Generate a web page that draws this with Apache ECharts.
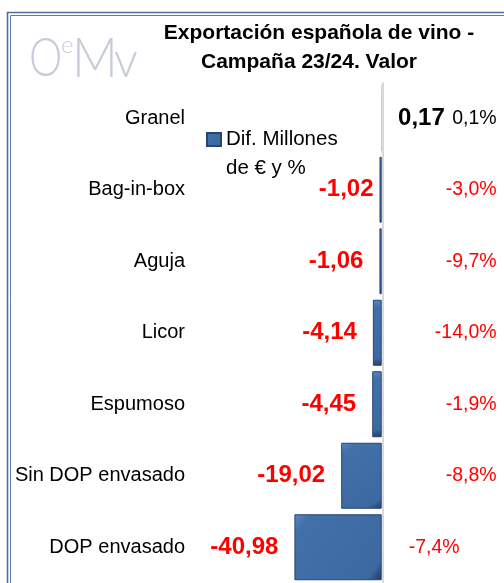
<!DOCTYPE html>
<html>
<head>
<meta charset="utf-8">
<script src="https://cdn.jsdelivr.net/npm/echarts@6/dist/echarts.min.js"></script>
<style>html,body{margin:0;padding:0;background:#fff;}#c{width:504px;height:583px;}</style>
</head>
<body>
<div id="c"></div>
<script>
const categories = ['Granel', 'Bag-in-box', 'Aguja', 'Licor', 'Espumoso', 'Sin DOP envasado', 'DOP envasado'];
const values = [0.17, -1.02, -1.06, -4.14, -4.45, -19.02, -40.98];
const pctLabels = ['0,1%', '-3,0%', '-9,7%', '-14,0%', '-1,9%', '-8,8%', '-7,4%'];
const titleLines = ['Exportación española de vino -', 'Campaña 23/24. Valor'];
const seriesName = 'Dif. Millones\nde € y %';

const FONT = 'Liberation Sans';
const chart = echarts.init(document.getElementById('c'), null, {renderer: 'canvas'});

const barColor = {
  type: 'linear', x: 0, y: 0, x2: 1, y2: 1,
  colorStops: [
    {offset: 0, color: '#5d89c2'},
    {offset: 0.12, color: '#4270a9'},
    {offset: 0.88, color: '#3d69a1'},
    {offset: 1, color: '#1f3a60'}
  ]
};

const fmt = v => v.toFixed(2).replace('.', ',');

const barData = values.map((v, i) => {
  const neg = v < 0;
  const item = {
    value: v,
    label: {
      show: true,
      position: neg ? 'left' : 'right',
      distance: i === 1 ? 6 : 16,
      color: neg ? '#ff0000' : '#000000',
      fontWeight: 'bold',
      fontSize: 24,
      fontFamily: FONT,
      formatter: p => fmt(p.value)
    }
  };
  if (Math.abs(v) < 0.5) item.itemStyle = {borderWidth: 0};
  return item;
});

const logoColor = '#c7ccd9';
const logoFont = {fontFamily: 'Lato', fontWeight: 300, fill: logoColor, verticalAlign: 'top'};
const titleStyle = {fontFamily: FONT, fontWeight: 'bold', fontSize: 21, color: '#000'};

const option = {
  animation: false,
  backgroundColor: '#ffffff',
  textStyle: {fontFamily: FONT},
  title: [
    {text: titleLines[0], left: 319, top: 23, textAlign: 'center', padding: 0, textStyle: titleStyle},
    {text: titleLines[1], left: 309, top: 52, textAlign: 'center', padding: 0, textStyle: titleStyle}
  ],
  legend: {
    data: [seriesName],
    left: 206,
    top: 96,
    padding: 0,
    itemWidth: 14,
    itemHeight: 13,
    itemGap: 5,
    icon: 'rect',
    formatter: name => '\n' + name,
    textStyle: {fontFamily: FONT, fontSize: 20.5, lineHeight: 29, color: '#000'}
  },
  graphic: [
    {type: 'rect', silent: true, shape: {x: 7.5, y: 12.5, width: 700, height: 800},
      style: {fill: null, stroke: '#4a6fa7', lineWidth: 1.6}},
    {type: 'rect', silent: true, shape: {x: 10.5, y: 15.5, width: 700, height: 800},
      style: {fill: null, stroke: '#5a7cb2', lineWidth: 1}},
    {type: 'text', silent: true, x: 29, y: 32, scaleX: 0.78,
      style: Object.assign({text: 'O', fontSize: 54}, logoFont)},
    {type: 'text', silent: true, x: 61, y: 33,
      style: Object.assign({text: 'e', fontSize: 24}, logoFont)},
    {type: 'text', silent: true, x: 72, y: 30.5, scaleX: 0.9,
      style: Object.assign({text: 'M', fontSize: 56}, logoFont)},
    {type: 'text', silent: true, x: 114, y: 36, scaleX: 0.95,
      style: Object.assign({text: 'v', fontSize: 50}, logoFont)}
  ],
  grid: {left: 190, top: 82.5, width: 255.6, height: 511, containLabel: false},
  xAxis: {
    type: 'value', min: -90, max: 30, show: false
  },
  yAxis: [
    {
      type: 'category', data: categories, inverse: true,
      axisLine: {show: false}, axisTick: {show: false}, splitLine: {show: false},
      axisLabel: {margin: 5, fontSize: 20, fontFamily: FONT, color: '#000'}
    },
    {
      type: 'category', data: pctLabels, inverse: true, position: 'right',
      axisLine: {show: false}, axisTick: {show: false}, splitLine: {show: false},
      axisLabel: {
        margin: 51, align: 'right', fontSize: 19, fontFamily: FONT, color: '#ff0000',
        formatter: (v, i) => i === 0 ? '{k|' + v + '}' : (i === 6 ? '{d|' + v + '}' : '{r|' + v + '}'),
        rich: {
          k: {color: '#000000', fontSize: 19.5, fontFamily: FONT},
          r: {color: '#ff0000', fontSize: 19.5, fontFamily: FONT},
          d: {color: '#ff0000', fontSize: 19.5, fontFamily: FONT, padding: [0, 37, 0, 0]}
        }
      }
    }
  ],
  series: [
    {
      name: seriesName,
      type: 'bar',
      barWidth: 66,
      data: barData,
      itemStyle: {color: barColor, borderColor: '#26456f', borderWidth: 1},
      markLine: {
        silent: true, symbol: 'none', animation: false,
        label: {show: false},
        lineStyle: {color: '#d9d9d9', width: 2, type: 'solid'},
        data: [{xAxis: 0.4}]
      }
    }
  ]
};
chart.setOption(option);
</script>
</body>
</html>
